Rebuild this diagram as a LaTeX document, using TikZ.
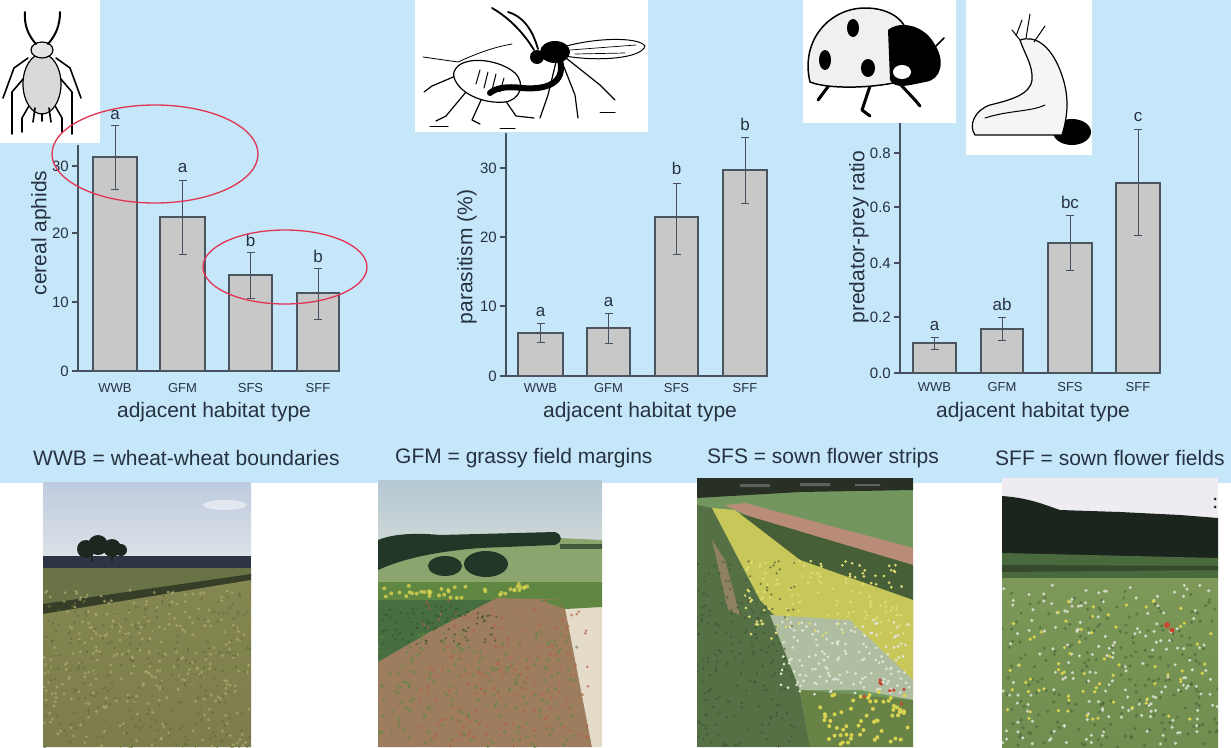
\documentclass[tikz,border=0pt]{standalone}
\usepackage{fontspec}
\setmainfont{Liberation Sans}
\definecolor{panelblue}{RGB}{198,231,249}
\definecolor{inkgrey}{RGB}{38,50,64}
\definecolor{barfill}{RGB}{200,200,200}
\definecolor{baredge}{RGB}{75,85,95}
\definecolor{ringred}{RGB}{226,52,82}
\definecolor{skyonetop}{RGB}{190,203,222}
\definecolor{skyonebot}{RGB}{222,226,232}
\definecolor{horizonone}{RGB}{45,52,68}
\definecolor{treeone}{RGB}{30,38,32}
\definecolor{fieldonetop}{RGB}{105,115,70}
\definecolor{striponee}{RGB}{55,62,40}
\definecolor{fieldone}{RGB}{132,135,82}
\definecolor{fieldonebot}{RGB}{125,125,75}
\definecolor{wheatlight}{RGB}{170,165,108}
\definecolor{wheatdark}{RGB}{100,105,62}
\definecolor{skytwotop}{RGB}{180,200,212}
\definecolor{skytwobot}{RGB}{208,216,214}
\definecolor{hilltwo}{RGB}{140,165,110}
\definecolor{treetwo}{RGB}{35,55,40}
\definecolor{bandtwo}{RGB}{95,135,65}
\definecolor{croptwo}{RGB}{70,110,65}
\definecolor{grasstwo}{RGB}{158,125,95}
\definecolor{pathtwo}{RGB}{228,220,200}
\definecolor{treethree}{RGB}{40,48,38}
\definecolor{fieldthree}{RGB}{115,150,95}
\definecolor{wheatthree}{RGB}{85,112,68}
\definecolor{yellowthree}{RGB}{200,200,90}
\definecolor{whitethree}{RGB}{175,190,160}
\definecolor{pinkthree}{RGB}{185,140,120}
\definecolor{darkthree}{RGB}{70,95,55}
\definecolor{mixthree}{RGB}{105,130,70}
\definecolor{skyfour}{RGB}{238,236,240}
\definecolor{forestfour}{RGB}{28,36,30}
\definecolor{bandfour}{RGB}{75,105,62}
\definecolor{meadowtop}{RGB}{125,152,88}
\definecolor{meadowbot}{RGB}{112,142,80}
\definecolor{flowerwhite}{RGB}{225,228,215}
\definecolor{floweryellow}{RGB}{215,210,80}
\definecolor{poppy}{RGB}{200,70,50}

\begin{document}
\begin{tikzpicture}[x=1pt,y=-1pt,
    bar/.style={draw=baredge,fill=barfill,line width=1.6pt},
    axisline/.style={draw=inkgrey!85,line width=1.4pt},
    errbar/.style={draw=inkgrey!85,line width=1pt},
    ticklab/.style={anchor=east,inner sep=0pt,font=\fontsize{15}{15}\selectfont,text=inkgrey},
    catlab/.style={inner sep=0pt,font=\fontsize{13}{13}\selectfont,text=inkgrey},
    siglab/.style={inner sep=0pt,font=\fontsize{17}{17}\selectfont,text=inkgrey},
    axlab/.style={inner sep=0pt,font=\fontsize{21}{21}\selectfont,text=inkgrey},
    keylab/.style={anchor=west,inner sep=0pt,font=\fontsize{21}{21}\selectfont,text=inkgrey},
    ring/.style={draw=ringred,line width=1.3pt},
    ink/.style={draw=black,line width=1.2pt,line cap=round,line join=round}]
  \pgfmathsetseed{11}
  \useasboundingbox (0,0) rectangle (1231,747);
  \fill[panelblue] (0,0) rectangle (1231,483);

  % cereal aphids
  \draw[axisline] (78,145) -- (78,371) -- (340,371);
  \foreach \v/\y in {0/371,10/302,20/233,30/166}{
    \draw[axisline] (72,\y) -- (78,\y);
    \node[ticklab] at (69,\y) {\v};
  }
  \foreach \xa/\xb/\h/\eh/\el/\sig/\sy/\cat in {93/137/157/125/189/a/115/WWB,160/205/217/180/254/a/168/GFM,229/272/275/252/298/b/240/SFS,297/339/293/268/319/b/256/SFF}{
    \draw[bar] (\xa,371) rectangle (\xb,\h);
    \pgfmathsetmacro\xm{(\xa+\xb)/2}
    \draw[errbar] (\xm,\eh) -- (\xm,\el) (\xm-4,\eh) -- (\xm+4,\eh) (\xm-4,\el) -- (\xm+4,\el);
    \node[siglab] (aphid-sig-\cat) at (\xm,\sy) {\sig};
    \node[catlab] (aphid-cat-\cat) at (\xm,388) {\cat};
  }
  \node[axlab,rotate=90] (aphid-ylab) at (41,233) {cereal aphids};
  \node[axlab] (aphid-xlab) at (214,412) {adjacent habitat type};

  % parasitism
  \draw[axisline] (506,133) -- (506,376) -- (767,376);
  \foreach \v/\y in {0/376,10/306,20/237,30/168}{
    \draw[axisline] (500,\y) -- (506,\y);
    \node[ticklab] at (497,\y) {\v};
  }
  \foreach \xa/\xb/\h/\eh/\el/\sig/\sy/\cat in {518/563/333/323/342/a/312/WWB,587/630/328/313/343/a/302/GFM,655/698/217/183/254/b/168/SFS,723/767/170/137/203/b/124/SFF}{
    \draw[bar] (\xa,376) rectangle (\xb,\h);
    \pgfmathsetmacro\xm{(\xa+\xb)/2}
    \draw[errbar] (\xm,\eh) -- (\xm,\el) (\xm-4,\eh) -- (\xm+4,\eh) (\xm-4,\el) -- (\xm+4,\el);
    \node[siglab] (para-sig-\cat) at (\xm,\sy) {\sig};
    \node[catlab] (para-cat-\cat) at (\xm,388) {\cat};
  }
  \node[axlab,rotate=90] (para-ylab) at (467,257) {parasitism (\%)};
  \node[axlab] (para-xlab) at (640,412) {adjacent habitat type};

  % predator-prey ratio
  \draw[axisline] (900,123) -- (900,373) -- (1160,373);
  \foreach \v/\y in {0.0/373,0.2/317,0.4/263,0.6/207,0.8/153}{
    \draw[axisline] (894,\y) -- (900,\y);
    \node[ticklab] at (891,\y) {\v};
  }
  \foreach \xa/\xb/\h/\eh/\el/\sig/\sy/\cat in {913/956/343/337/349/a/326/WWB,981/1023/329/317/340/ab/304/GFM,1048/1092/243/215/270/bc/202/SFS,1116/1160/183/129/235/c/117/SFF}{
    \draw[bar] (\xa,373) rectangle (\xb,\h);
    \pgfmathsetmacro\xm{(\xa+\xb)/2}
    \draw[errbar] (\xm,\eh) -- (\xm,\el) (\xm-4,\eh) -- (\xm+4,\eh) (\xm-4,\el) -- (\xm+4,\el);
    \node[siglab] (pred-sig-\cat) at (\xm,\sy) {\sig};
    \node[catlab] (pred-cat-\cat) at (\xm,387) {\cat};
  }
  \node[axlab,rotate=90] (pred-ylab) at (859,237) {predator-prey ratio};
  \node[axlab] (pred-xlab) at (1033,412) {adjacent habitat type};

  % aphid
  \fill[white] (0,0) rectangle (100,143);
  \draw[ink,line width=1.6pt] (28,58) -- (14,68) -- (3,98) (24,78) -- (12,92) -- (12,134) (30,104) -- (22,118) -- (22,132);
  \draw[ink,line width=1.6pt] (56,58) -- (70,68) -- (81,98) (60,78) -- (72,92) -- (72,134) (54,104) -- (62,118) -- (62,132);
  \draw[ink,fill=gray!30] (42,84) ellipse [x radius=19,y radius=30];
  \draw[ink,fill=gray!20] (42,50) ellipse [x radius=11,y radius=8];
  \draw[ink,line width=2pt] (36,44) .. controls (28,35) and (24,25) .. (25,12) (48,44) .. controls (56,35) and (60,25) .. (60,12);
  \draw[ink,line width=1.6pt] (35,108) -- (33,122) (49,108) -- (51,122) (42,114) -- (42,121);

  % parasitoid wasp on aphid
  \fill[white] (415,0) rectangle (648,132);
  \draw[ink] (458,75) -- (432,86) -- (424,92) (466,92) -- (446,116) -- (436,121) (482,98) -- (472,120) -- (480,124) (505,100) -- (516,116) -- (534,118);
  \draw[ink,fill=white] (458,66) .. controls (470,56) and (500,60) .. (515,73) .. controls (526,84) and (520,100) .. (505,102) .. controls (485,104) and (462,95) .. (455,80) .. controls (452,74) and (454,70) .. (458,66) -- cycle;
  \draw[ink,line width=1pt] (480,70) -- (476,84) (488,72) -- (484,88) (496,74) -- (492,90) (504,78) -- (500,92);
  \draw[ink,line width=0.8pt] (458,62) -- (423,57) (458,62) .. controls (480,52) and (495,47) .. (512,44);
  \draw[ink] (556,62) -- (548,95) -- (540,118) (562,62) -- (575,95) -- (578,118) (566,58) -- (600,85) -- (615,100);
  \draw[ink,fill=white,line width=1pt] (560,48) .. controls (590,38) and (638,36) .. (645,46) .. controls (642,58) and (600,62) .. (565,56) -- cycle;
  \draw[ink,line width=0.7pt] (570,50) -- (636,45) (575,54) -- (625,53);
  \draw[ink,line width=6pt] (560,60) .. controls (566,84) and (545,90) .. (522,88) .. controls (506,86) and (496,88) .. (490,93);
  \fill (555,52) ellipse [x radius=15,y radius=11];
  \fill (537,57) circle [radius=7];
  \draw[ink,line width=1.8pt] (534,50) .. controls (522,30) and (506,16) .. (492,8) (538,49) .. controls (532,28) and (522,16) .. (508,12);
  \draw[ink,line width=1pt] (430,126) -- (448,126) (500,128) -- (515,128) (600,112) -- (615,112);

  % ladybird
  \fill[white] (803,0) rectangle (956,123);
  \draw[ink,line width=3pt] (830,84) -- (818,100) (870,86) -- (862,110) -- (870,116) (900,84) -- (915,100) -- (920,106);
  \draw[ink,fill=gray!12,line width=1.5pt] (810,82) .. controls (800,40) and (830,8) .. (865,8) .. controls (890,8) and (905,20) .. (908,35) -- (905,80) .. controls (880,88) and (830,90) .. (810,82) -- cycle;
  \fill (853,28) ellipse [x radius=6,y radius=9] (825,60) ellipse [x radius=6,y radius=10] (868,68) ellipse [x radius=7,y radius=9];
  \fill (888,30) .. controls (900,20) and (925,25) .. (935,45) .. controls (945,60) and (942,80) .. (925,82) .. controls (910,85) and (895,90) .. (890,80) -- cycle;
  \fill[white] (902,72) ellipse [x radius=9,y radius=7];
  \draw[ink,line width=1.5pt] (932,50) -- (944,38);

  % lacewing larva
  \fill[white] (966,0) rectangle (1092,155);
  \begin{scope}
    \clip (966,0) rectangle (1092,155);
    \fill (1072,132) ellipse [x radius=19,y radius=13];
  \end{scope}
  \draw[ink,fill=gray!8] (1020,40) .. controls (1035,35) and (1050,45) .. (1060,70) .. controls (1070,95) and (1068,115) .. (1062,135) -- (975,135) .. controls (968,125) and (975,110) .. (990,105) .. controls (1010,100) and (1030,95) .. (1032,80) .. controls (1033,65) and (1025,55) .. (1020,40) -- cycle;
  \draw[ink,line width=1pt] (985,118) .. controls (1010,110) and (1030,112) .. (1045,105) (1020,40) -- (1012,30) (1026,38) -- (1030,14) (1034,42) -- (1045,26) (1016,36) -- (1022,20);

  % marked groups
  \draw[ring] (155,154) ellipse [x radius=103,y radius=49];
  \draw[ring] (285,267) ellipse [x radius=82,y radius=37];

  % key
  \node[keylab] (key-wwb) at (33,458) {WWB = wheat-wheat boundaries};
  \node[keylab] (key-gfm) at (395,458) {GFM = grassy field margins};
  \node[keylab] (key-sfs) at (707,458) {SFS = sown flower strips};
  \node[keylab] (key-sff) at (995,458) {SFF = sown flower fields};

  % photo WWB
  \begin{scope}
    \clip (43,482) rectangle (251,747);
    \shade[top color=skyonetop,bottom color=skyonebot] (43,482) rectangle (251,560);
    \fill[white,opacity=0.5] (225,505) ellipse [x radius=22,y radius=5];
    \fill[horizonone] (43,556) rectangle (251,569);
    \fill[treeone] (86,549) circle [radius=9] (98,545) circle [radius=10] (112,548) circle [radius=9] (121,550) circle [radius=6];
    \draw[treeone,line width=1.2pt] (92,552) -- (92,562) (112,552) -- (112,562);
    \fill[fieldonetop] (43,568) -- (251,568) -- (251,576) -- (43,606) -- cycle;
    \fill[striponee] (43,604) -- (251,574) -- (251,582) -- (43,616) -- cycle;
    \shade[top color=fieldone,bottom color=fieldonebot] (43,614) -- (251,580) -- (251,747) -- (43,747) -- cycle;
    \foreach \i in {1,...,300}{\fill[wheatlight,opacity=0.8] ({43+208*rnd},{590+160*rnd}) circle [radius=1.6];}
    \foreach \i in {1,...,260}{\fill[wheatdark,opacity=0.7] ({43+208*rnd},{590+160*rnd}) circle [radius=1.4];}
  \end{scope}

  % photo GFM
  \begin{scope}
    \clip (378,480) rectangle (602,747);
    \shade[top color=skytwotop,bottom color=skytwobot] (378,480) rectangle (602,545);
    \fill[hilltwo] (378,545) -- (450,548) -- (560,538) -- (602,540) -- (602,600) -- (378,600) -- cycle;
    \fill[treetwo] (378,540) .. controls (395,533) and (420,533) .. (440,535) -- (555,532) .. controls (563,535) and (563,542) .. (555,545) -- (480,548) .. controls (430,552) and (400,560) .. (378,570) -- cycle;
    \fill[treetwo!70!hilltwo] (560,544) rectangle (602,549);
    \fill[treetwo] (445,566) ellipse [x radius=17,y radius=10] (486,564) ellipse [x radius=22,y radius=13];
    \fill[bandtwo] (378,582) rectangle (602,602);
    \foreach \i in {1,...,40}{\fill[floweryellow,opacity=0.8] ({378+150*rnd},{584+14*rnd}) circle [radius=2];}
    \fill[croptwo] (378,600) -- (540,600) -- (500,612) -- (430,632) -- (378,665) -- cycle;
    \fill[grasstwo] (497,598) -- (572,600) -- (592,747) -- (378,747) -- (378,662) -- (430,632) -- cycle;
    \fill[pathtwo] (565,608) -- (602,606) -- (602,747) -- (592,747) -- cycle;
    \fill[bandtwo] (540,600) -- (602,600) -- (602,607) -- (565,609) -- cycle;
    \foreach \i in {1,...,200}{\fill[bandtwo,opacity=0.6] ({378+200*rnd},{630+117*rnd}) circle [radius=1.8];}
    \foreach \i in {1,...,160}{\fill[poppy!55!grasstwo,opacity=0.7] ({420+170*rnd},{600+147*rnd}) circle [radius=1.5];}
    \foreach \i in {1,...,90}{\fill[croptwo!70!black,opacity=0.6] ({378+120*rnd},{605+40*rnd}) circle [radius=1.3];}
  \end{scope}

  % photo SFS
  \begin{scope}
    \clip (697,478) rectangle (913,747);
    \fill[fieldthree] (697,478) rectangle (913,747);
    \fill[treethree] (697,478) -- (913,478) -- (913,490) -- (800,492) -- (697,498) -- cycle;
    \fill[gray!60!treethree] (740,484) rectangle (770,487) (800,483) rectangle (830,486) (855,484) rectangle (880,486);
    \fill[pinkthree] (725,505) -- (745,503) -- (913,548) -- (913,565) -- (800,540) -- cycle;
    \fill[darkthree] (735,512) -- (913,565) -- (913,640) -- (800,570) -- cycle;
    \fill[wheatthree] (697,505) -- (712,508) -- (790,640) -- (810,747) -- (697,747) -- cycle;
    \fill[pinkthree!60!wheatthree] (712,540) -- (725,560) -- (740,615) -- (728,610) -- cycle;
    \fill[yellowthree] (712,508) -- (735,510) -- (800,560) -- (913,600) -- (913,690) -- (850,640) -- (790,632) -- (760,600) -- cycle;
    \fill[whitethree] (770,615) -- (850,620) -- (913,680) -- (913,700) -- (860,690) -- (800,690) -- cycle;
    \fill[mixthree] (800,690) -- (913,700) -- (913,747) -- (810,747) -- cycle;
    \foreach \i in {1,...,140}{\fill[floweryellow!80!white] ({745+165*rnd},{560+80*rnd}) circle [radius=1.5];}
    \foreach \i in {1,...,140}{\fill[flowerwhite] ({780+130*rnd},{620+75*rnd}) circle [radius=1.5];}
    \foreach \i in {1,...,60}{\fill[floweryellow] ({820+93*rnd},{690+57*rnd}) circle [radius=2];}
    \foreach \i in {1,...,8}{\fill[poppy] ({860+50*rnd},{680+30*rnd}) circle [radius=1.8];}
    \foreach \i in {1,...,200}{\fill[wheatthree!70!black,opacity=0.6] ({697+100*rnd},{560+187*rnd}) circle [radius=1.3];}
  \end{scope}

  % photo SFF
  \begin{scope}
    \clip (1002,478) rectangle (1218,747);
    \fill[skyfour] (1002,478) rectangle (1218,522);
    \fill[forestfour] (1002,496) .. controls (1030,498) and (1045,505) .. (1060,510) -- (1120,512) -- (1180,515) -- (1218,518) -- (1218,560) -- (1002,556) -- cycle;
    \fill[bandfour] (1002,553) -- (1218,558) -- (1218,580) -- (1002,582) -- cycle;
    \fill[bandfour!70!black] (1002,565) -- (1218,566) -- (1218,570) -- (1002,572) -- cycle;
    \shade[top color=meadowtop,bottom color=meadowbot] (1002,578) rectangle (1218,747);
    \foreach \i in {1,...,200}{\fill[bandfour!85!black,opacity=0.5] ({1002+216*rnd},{590+157*rnd}) circle [radius=1.8];}
    \foreach \i in {1,...,180}{\fill[flowerwhite,opacity=0.85] ({1002+216*rnd},{585+160*rnd}) circle [radius=1.7];}
    \foreach \i in {1,...,70}{\fill[floweryellow] ({1002+216*rnd},{600+120*rnd}) circle [radius=1.8];}
    \fill[poppy] (1167,625) circle [radius=3] (1172,630) circle [radius=2.5];
    \fill[forestfour] (1215,499) circle [radius=1.5] (1215,507) circle [radius=1.5];
  \end{scope}
\end{tikzpicture}
\end{document}
